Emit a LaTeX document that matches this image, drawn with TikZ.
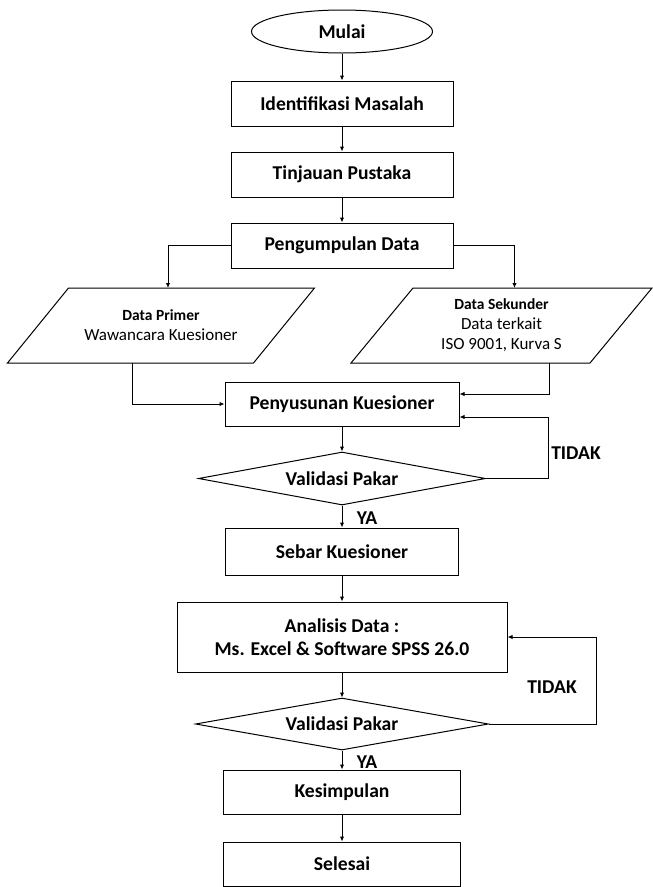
\documentclass[tikz,border=0pt]{standalone}
\usepackage{fontspec}
\setmainfont{Carlito}
\usetikzlibrary{shapes.geometric,arrows.meta,calc}
\newcommand{\iohead}[1]{{\fontsize{15.5}{20}\selectfont\bfseries #1}}

\begin{document}
\begin{tikzpicture}[x=1pt,y=-1pt,line width=1pt,>={Latex[length=5pt,width=4.5pt]},
  font=\fontsize{19.6}{23}\selectfont\bfseries,
  box/.style={draw,rectangle,minimum width=222pt,minimum height=45pt,inner sep=0pt},
  terminal/.style={draw,ellipse,minimum width=181pt,minimum height=43pt,inner sep=0pt},
  decision/.style={draw,diamond,aspect=5.5,minimum width=290pt,minimum height=53pt,inner sep=0pt},
  dataio/.style={rectangle,minimum height=75pt,inner sep=0pt,outer sep=0pt,align=center,
    font=\fontsize{17}{20}\selectfont}]
\useasboundingbox (0,0) rectangle (653,887);

\node[terminal] (mulai) at (342,31.5) {Mulai};
\node[box] (identifikasi) at (342,103.5) {Identifikasi Masalah};
\node[box] (tinjauan) at (342,174.5) {Tinjauan Pustaka};
\node[box] (pengumpulan) at (342,245.5) {Pengumpulan Data};
\node[dataio,minimum width=307pt] (primer) at (161,325.5) {\iohead{Data Primer}\\Wawancara Kuesioner};
\node[dataio,minimum width=301pt] (sekunder) at (501.5,325.5) {\iohead{Data Sekunder}\\Data terkait\\ISO 9001, Kurva S};
\node[box,minimum width=234pt,minimum height=44pt] (penyusunan) at (342,404) {Penyusunan Kuesioner};
\node[decision,minimum width=287pt] (validasi1) at (342,478.5) {Validasi Pakar};
\node[box,minimum width=233pt,minimum height=47pt] (sebar) at (342,551.5) {Sebar Kuesioner};
\node[box,minimum width=330pt,minimum height=70pt,align=center] (analisis) at (342,637) {Analisis Data :\\Ms. Excel \& Software SPSS 26.0};
\node[decision,minimum width=293pt,minimum height=52pt] (validasi2) at (342,724) {Validasi Pakar};
\node[box,minimum width=237pt,minimum height=44pt] (kesimpulan) at (342,792) {Kesimpulan};
\node[box,minimum width=237pt,minimum height=44pt] (selesai) at (342,864) {Selesai};

% parallelogram outlines
\draw (primer.south west) -- ($(primer.south east)+(-61,0)$) -- (primer.north east) -- ($(primer.north west)+(61,0)$) -- cycle;
\draw (sekunder.south west) -- ($(sekunder.south east)+(-62,0)$) -- (sekunder.north east) -- ($(sekunder.north west)+(62,0)$) -- cycle;

\node (tidak1) at (576,453) {TIDAK};
\node (ya1) at (367,518) {YA};
\node (tidak2) at (552,687) {TIDAK};
\node (ya2) at (367,762) {YA};

\draw[->] (mulai) -- (identifikasi);
\draw[->] (identifikasi) -- (tinjauan);
\draw[->] (tinjauan) -- (pengumpulan);
\draw[->] (pengumpulan.west) -| ($(primer.north)+(7,0)$);
\draw[->] (pengumpulan.east) -| ($(sekunder.north)+(13,0)$);
\draw[->] ($(primer.south)+(-29,0)$) |- (penyusunan.west);
\draw[->] ($(sekunder.south)+(48,0)$) |- ($(penyusunan.east)+(0,-10)$);
\draw[->] (penyusunan) -- (validasi1);
\draw[->] (validasi1.east) -- ++(62,0) |- ($(penyusunan.east)+(0,13)$);
\draw[->] (validasi1) -- (sebar);
\draw[->] (sebar) -- (analisis);
\draw[->] (analisis) -- (validasi2);
\draw[->] (validasi2.east) -- ++(107,0) |- (analisis.east);
\draw[->] (validasi2) -- (kesimpulan);
\draw[->] (kesimpulan) -- (selesai);
\end{tikzpicture}
\end{document}
